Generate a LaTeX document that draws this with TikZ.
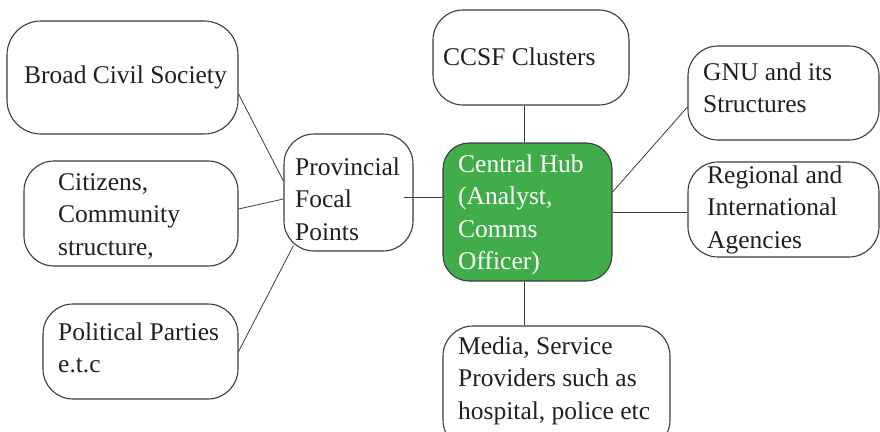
\documentclass[tikz,border=0pt]{standalone}
\usepackage{fontspec}
\setmainfont{Liberation Serif}
\definecolor{hubgreen}{RGB}{64,173,74}
\definecolor{inkc}{RGB}{35,31,32}
\definecolor{edgec}{RGB}{60,60,60}
\newcommand\stacklines[1]{\begin{tabular}[t]{@{}l@{}}#1\end{tabular}}
\tikzset{
  card/.style={draw=edgec, line width=1.1pt, rounded corners=30pt, inner sep=0pt, fill=white},
  hubcard/.style={card, fill=hubgreen},
  lbl/.style={anchor=base west, inner sep=0pt, text=inkc,
              font=\fontsize{25.5}{32.5}\selectfont},
  hublbl/.style={lbl, text=white},
  link/.style={draw=edgec, line width=0.8pt},
}
\begin{document}
\begin{tikzpicture}[x=1pt, y=-1pt]
\useasboundingbox (0,0) rectangle (880,431);

% outer boxes
\node[card, rounded corners=34pt, minimum width=231pt, minimum height=113pt] (bcs) at (122.5,77.5) {};
\node[card, minimum width=214pt, minimum height=105pt] (cit) at (131,213.5) {};
\node[card, minimum width=195pt, minimum height=95pt] (pol) at (140.5,351.5) {};
\node[card, minimum width=129pt, minimum height=117pt] (prov) at (348.5,192.5) {};
\node[hubcard, rounded corners=26pt, minimum width=169pt, minimum height=138pt] (hub) at (527.5,212) {};
\node[card, minimum width=196pt, minimum height=95pt] (ccsf) at (531,57.5) {};
\node[card, minimum width=191pt, minimum height=94pt] (gnu) at (783.5,93) {};
\node[card, minimum width=191pt, minimum height=95pt] (reg) at (783.5,209.5) {};
\node[card, minimum width=227pt, minimum height=124pt] (media) at (556.5,388) {};

% box texts
\node[lbl] (bcs-t) at (24,83) {Broad Civil Society};
\node[lbl] (cit-t) at (58,190) {\stacklines{Citizens,\\Community\\structure,}};
\node[lbl] (pol-t) at (58,340) {\stacklines{Political Parties\\e.t.c}};
\node[lbl] (prov-t) at (295,175) {\stacklines{Provincial\\Focal\\Points}};
\node[hublbl] (hub-t) at (458,172) {\stacklines{Central Hub\\(Analyst,\\Comms\\Officer)}};
\node[lbl] (ccsf-t) at (443,65) {CCSF Clusters};
\node[lbl] (gnu-t) at (703,80) {\stacklines{GNU and its\\Structures}};
\node[lbl] (reg-t) at (707,183) {\stacklines{Regional and\\International\\Agencies}};
\node[lbl] (media-t) at (458,354) {\stacklines{Media, Service\\Providers such as\\hospital, police etc}};

% connectors to the provincial focal points
\draw[link] ([yshift=-16.5pt]bcs.east) -- ([yshift=11.5pt]prov.west);
\draw[link] ([yshift=4.5pt]cit.east) -- ([yshift=-6.5pt]prov.west);
\draw[link] (pol.east) -- ([xshift=10pt,yshift=6pt]prov.south west);
\draw[link] ([xshift=-10pt,yshift=-4.5pt]prov.east) -- ([yshift=15pt]hub.west);

% connectors from the central hub
\draw[link] ([xshift=-3.5pt]hub.north) -- ([xshift=-3.5pt]hub.north |- ccsf.south);
\draw[link] ([yshift=20pt]hub.east) -- ([yshift=-14pt]gnu.west);
\draw[link] (hub.east) -- (hub.east -| reg.west);
\draw[link] ([xshift=-3.5pt]hub.south) -- ([xshift=-3.5pt]hub.south |- media.north);
\end{tikzpicture}
\end{document}
